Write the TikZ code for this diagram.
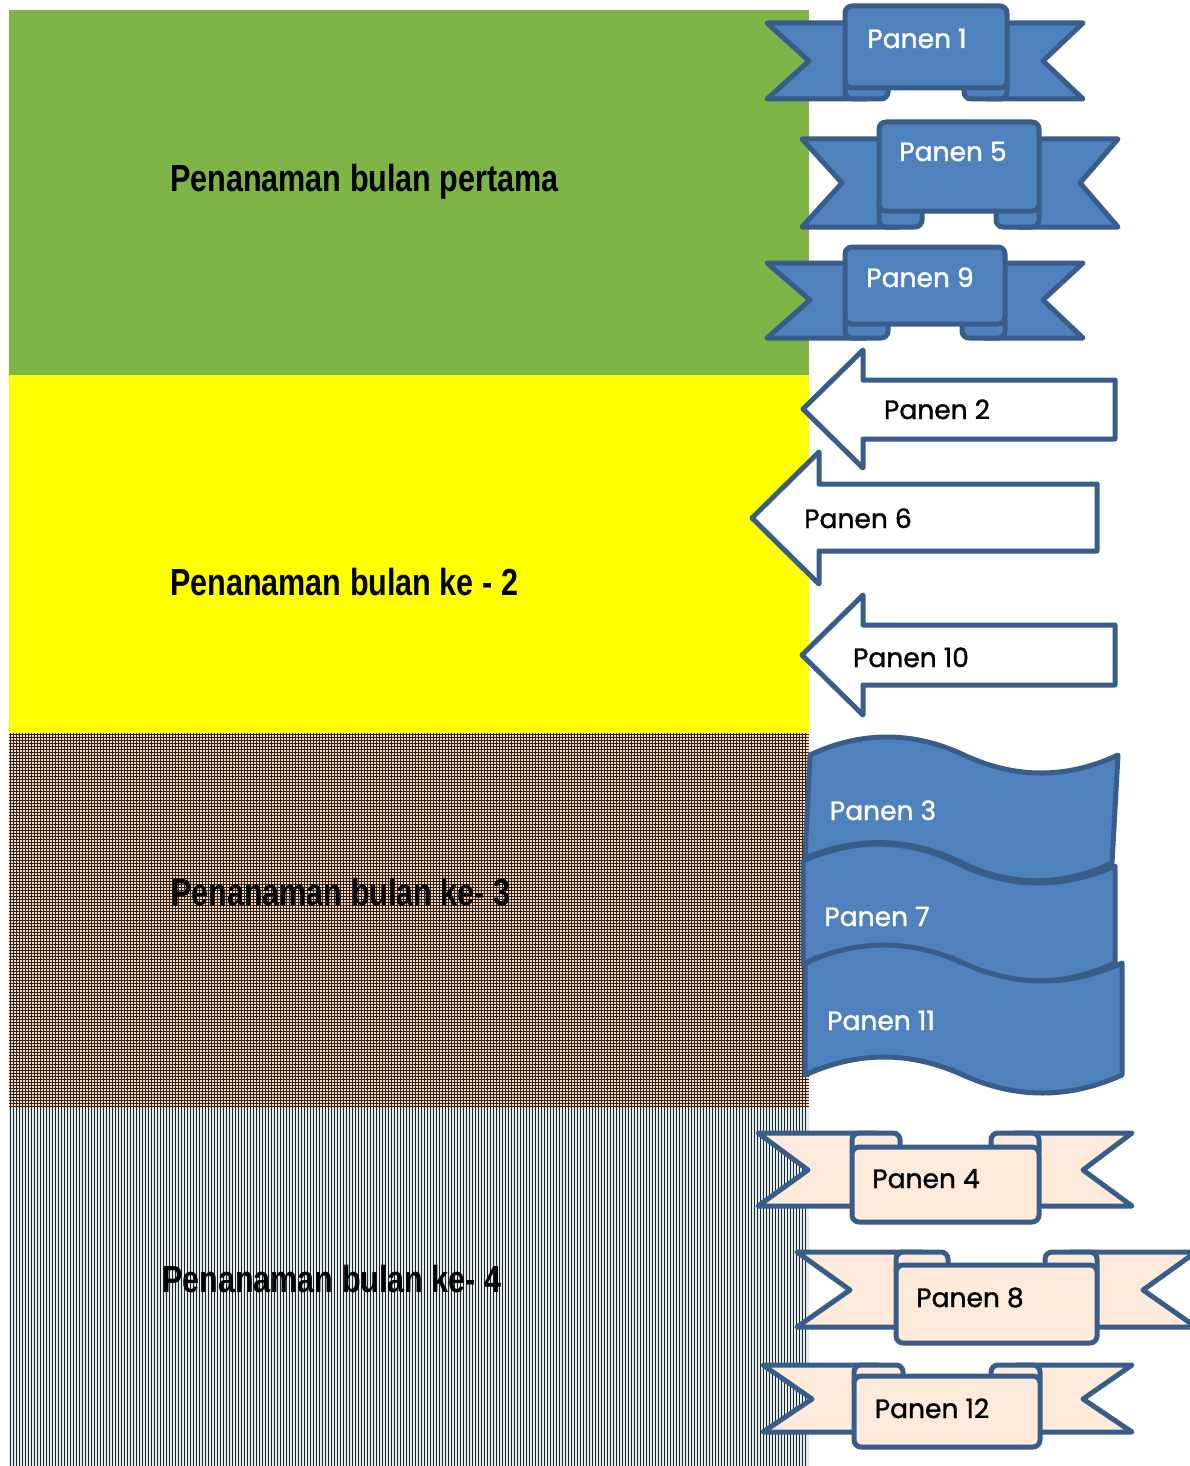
\documentclass[tikz,border=0pt]{standalone}
\usepackage{fontspec}
\newfontfamily\panenfont{Poppins}[FakeBold=1.3]
\newfontfamily\judulfont{Liberation Sans}
\definecolor{daungreen}{RGB}{127,180,70}
\definecolor{blokyellow}{RGB}{255,255,0}
\definecolor{panelblue}{RGB}{79,129,189}
\definecolor{edgeblue}{RGB}{56,93,138}
\definecolor{ribbonbeige}{RGB}{253,234,218}
\definecolor{peach}{RGB}{251,213,181}
\definecolor{icecyan}{RGB}{218,238,243}
\definecolor{darkline}{RGB}{45,35,30}

\begin{document}
\begin{tikzpicture}[x=1pt, y=-1pt,
	blueribbon/.style={fill=panelblue, draw=edgeblue, line width=5pt, line join=round},
	bluecurl/.style={fill=panelblue, draw=edgeblue, line width=5pt, rounded corners=7},
	beigeribbon/.style={fill=ribbonbeige, draw=edgeblue, line width=5pt, line join=round},
	beigecurl/.style={fill=ribbonbeige, draw=edgeblue, line width=5pt, rounded corners=7},
	leftarrow/.style={fill=white, draw=edgeblue, line width=5pt, line join=round},
	flagwave/.style={fill=panelblue, draw=edgeblue, line width=5pt, line join=round},
	panentxt/.style={font=\panenfont\fontsize{26.5}{30}\selectfont, anchor=base, inner sep=0pt},
	judul/.style={font=\judulfont\bfseries\fontsize{37.7}{40}\selectfont, anchor=base west, inner sep=0pt}]

	\useasboundingbox (0,0) rectangle (1189,1466);
	\fill[white] (0,0) rectangle (1189,1466);

	% Month blocks
	\fill[daungreen] (9,10) rectangle (809,375);
	\fill[blokyellow] (9,375) rectangle (809,733);
	% grid fill
	\fill[peach] (9,733) rectangle (809,1108);
	\foreach \x in {10.5,13.5,...,808} \draw[darkline, line width=0.6pt] (\x,733) -- (\x,1108);
	\foreach \y in {734.5,737.5,...,1108} \draw[darkline, line width=0.6pt] (9,\y) -- (809,\y);
	% vertical stripes
	\fill[icecyan] (9,1108) rectangle (809,1466);
	\foreach \x in {10.5,13.5,...,808} \draw[darkline, line width=0.85pt] (\x,1108) -- (\x,1466);

	\node[judul] (t1) at (170,192) {\scalebox{0.81}[1]{Penanaman bulan pertama}};
	\node[judul] (t2) at (170,595) {\scalebox{0.81}[1]{Penanaman bulan ke - 2}};
	\node[judul] (t3) at (171,905) {\scalebox{0.81}[1]{Penanaman bulan ke- 3}};
	\node[judul] (t4) at (162,1292) {\scalebox{0.81}[1]{Penanaman bulan ke- 4}};

	% --- Panen 1 ---
	\filldraw[blueribbon] (767,23) -- (866,23) -- (866,99) -- (767,99) -- (809,61) -- cycle;
	\filldraw[blueribbon] (1083,23) -- (986,23) -- (986,99) -- (1083,99) -- (1043,61) -- cycle;
	\filldraw[bluecurl] (845,76) rectangle (888,99);
	\filldraw[bluecurl] (964,76) rectangle (1007,99);
	\filldraw[blueribbon, rounded corners=7] (845,6) rectangle (1007,88);
	\node[panentxt, white] (p1) at (917,48) {Panen 1};

	% --- Panen 5 ---
	\filldraw[blueribbon] (802,139) -- (900,139) -- (900,227) -- (802,227) -- (842,183) -- cycle;
	\filldraw[blueribbon] (1118,139) -- (1018,139) -- (1018,227) -- (1118,227) -- (1080,183) -- cycle;
	\filldraw[bluecurl] (879,198) rectangle (922,227);
	\filldraw[bluecurl] (996,198) rectangle (1039,227);
	\filldraw[blueribbon, rounded corners=7] (879,122) rectangle (1039,211);
	\node[panentxt, white] (p5) at (953,161) {Panen 5};

	% --- Panen 9 ---
	\filldraw[blueribbon] (767,263) -- (866,263) -- (866,338) -- (767,338) -- (810,300) -- cycle;
	\filldraw[blueribbon] (1083,263) -- (984,263) -- (984,338) -- (1083,338) -- (1043,300) -- cycle;
	\filldraw[bluecurl] (845,314) rectangle (888,338);
	\filldraw[bluecurl] (962,314) rectangle (1005,338);
	\filldraw[blueribbon, rounded corners=7] (845,247) rectangle (1005,324);
	\node[panentxt, white] (p9) at (920,287) {Panen 9};

	% --- Arrows: Panen 2, 6, 10 ---
	\filldraw[leftarrow] (803,409) -- (863,350) -- (863,380) -- (1115,380) -- (1115,439) -- (863,439) -- (863,468) -- cycle;
	\node[panentxt] (p2) at (937,419) {Panen 2};
	\filldraw[leftarrow] (752,518) -- (819,452) -- (819,484) -- (1097,484) -- (1097,551) -- (819,551) -- (819,584) -- cycle;
	\node[panentxt] (p6) at (858,528) {Panen 6};
	\filldraw[leftarrow] (802,655) -- (863,595) -- (863,625) -- (1115,625) -- (1115,685) -- (863,685) -- (863,715) -- cycle;
	\node[panentxt] (p10) at (911,667) {Panen 10};

	% --- Waves: Panen 3, 7, 11 ---
	\filldraw[flagwave] (810,755) .. controls (861,731) and (913,731) .. (964,755)
		.. controls (1015,779) and (1067,779) .. (1118,755) -- (1112,863)
		.. controls (1061,887) and (1009,887) .. (958,861)
		.. controls (907,837) and (856,837) .. (805,858) -- cycle;
	\node[panentxt, white] (p3) at (883,820) {Panen 3};
	\filldraw[flagwave] (803,861) .. controls (855,838) and (907,838) .. (959,864)
		.. controls (1011,889) and (1063,889) .. (1115,866) -- (1115,963)
		.. controls (1063,987) and (1011,987) .. (959,964)
		.. controls (907,940) and (855,940) .. (803,965) -- cycle;
	\node[panentxt, white] (p7) at (877,926) {Panen 7};
	\filldraw[flagwave] (805,963) .. controls (858,939) and (910,939) .. (963,963)
		.. controls (1016,987) and (1069,987) .. (1122,963) -- (1122,1075)
		.. controls (1069,1099) and (1016,1099) .. (963,1075)
		.. controls (910,1051) and (858,1051) .. (805,1075) -- cycle;
	\node[panentxt, white] (p11) at (881,1030) {Panen 11};

	% --- Panen 4 ---
	\filldraw[beigeribbon] (758,1133) -- (876,1133) -- (876,1206) -- (758,1206) -- (808,1170) -- cycle;
	\filldraw[beigeribbon] (1132,1133) -- (1015,1133) -- (1015,1206) -- (1132,1206) -- (1083,1170) -- cycle;
	\filldraw[beigecurl] (852,1133) rectangle (900,1158);
	\filldraw[beigecurl] (991,1133) rectangle (1039,1158);
	\filldraw[beigeribbon, rounded corners=7] (852,1147) rectangle (1039,1222);
	\node[panentxt] (p4) at (926,1188) {Panen 4};

	% --- Panen 8 ---
	\filldraw[beigeribbon] (797,1252) -- (922,1252) -- (922,1327) -- (797,1327) -- (850,1290) -- cycle;
	\filldraw[beigeribbon] (1196,1252) -- (1071,1252) -- (1071,1327) -- (1196,1327) -- (1143,1290) -- cycle;
	\filldraw[beigecurl] (896,1252) rectangle (948,1277);
	\filldraw[beigecurl] (1045,1252) rectangle (1097,1277);
	\filldraw[beigeribbon, rounded corners=7] (896,1265) rectangle (1097,1343);
	\node[panentxt] (p8) at (970,1307) {Panen 8};

	% --- Panen 12 ---
	\filldraw[beigeribbon] (763,1365) -- (878,1365) -- (878,1432) -- (763,1432) -- (812,1399) -- cycle;
	\filldraw[beigeribbon] (1132,1365) -- (1016,1365) -- (1016,1432) -- (1132,1432) -- (1083,1399) -- cycle;
	\filldraw[beigecurl] (854,1365) rectangle (903,1388);
	\filldraw[beigecurl] (991,1365) rectangle (1040,1388);
	\filldraw[beigeribbon, rounded corners=7] (854,1376) rectangle (1040,1447);
	\node[panentxt] (p12) at (932,1418) {Panen 12};

\end{tikzpicture}
\end{document}
